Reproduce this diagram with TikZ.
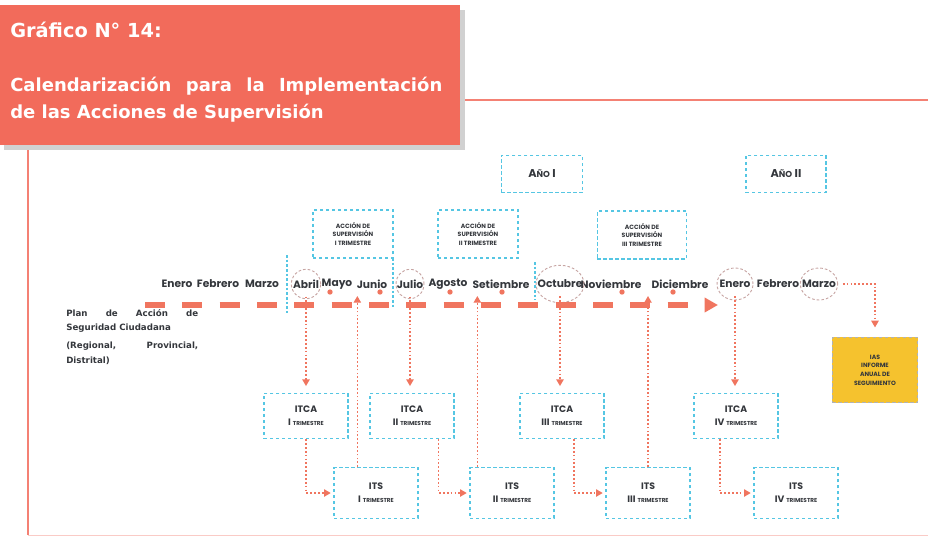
\documentclass[tikz,border=0pt]{standalone}
\usepackage{fontspec}
\setmainfont{Poppins}
\newfontfamily\titulofont{DejaVu Sans}
\usetikzlibrary{arrows.meta,positioning,shapes.geometric}
\definecolor{TemaRojo}{HTML}{F26B5B}
\definecolor{TemaLinea}{HTML}{F0755F}
\definecolor{TemaCian}{HTML}{55C6E3}
\definecolor{TemaGris}{HTML}{C7A5A3}
\definecolor{TemaTexto}{HTML}{34373C}
\definecolor{TemaAmarillo}{HTML}{F5C22E}
\newcommand{\trimtxt}[1]{#1~{\fontsize{4.3}{5}\selectfont TRIMESTRE}}
\tikzset{>=Triangle,titulo/.style={font=\titulofont\bfseries\fontsize{13.5}{15}\selectfont,
 text=white,inner sep=0pt},caja/.style={draw=TemaCian,line width=.9pt,
 dash pattern=on 2.5pt off 2pt,fill=white,align=center,inner sep=1pt},
 accion/.style={caja,minimum width=60pt,minimum height=36pt,font=\fontsize{4.6}{6.2}\selectfont\bfseries},
 inf/.style={caja,minimum width=63pt,minimum height=34pt,font=\fontsize{7}{10}\selectfont\bfseries},
 mes/.style={font=\fontsize{8}{9}\selectfont\bfseries,inner sep=1pt},
 marca/.style={draw=TemaGris,line width=.7pt,dash pattern=on 2pt off 1.5pt},
 flecha/.style={draw=TemaLinea,line width=1pt,dash pattern=on 1.3pt off 1.6pt,
 -{Triangle[length=5pt,width=5.5pt]},shorten >=4pt},
 linea/.style={draw=TemaLinea,line width=3.8pt,dash pattern=on 15pt off 13pt,
 -{Triangle[length=10pt,width=10.5pt]}},
 sep/.style={draw=TemaCian,line width=.8pt,dash pattern=on 2pt off 1.5pt},
 plan/.style={font=\titulofont\bfseries\fontsize{6.5}{11}\selectfont,align=left,inner sep=0pt}}
\begin{document}
\begin{tikzpicture}[x=.75pt,y=-.75pt,every node/.style={text=TemaTexto}]
\useasboundingbox (0,0) rectangle (928,536);
% marco
\draw[TemaRojo!85,line width=.8pt] (28,148)--(28,535);
\draw[TemaRojo!35,line width=.6pt] (28,535)--(928,535);
\draw[TemaRojo!85,line width=.8pt] (460,100)--(928,100);
% titulo
\fill[black!18] (4,10) rectangle (465,150);
\fill[TemaRojo] (0,5) rectangle (460,145);
\node[titulo,anchor=base west,font=\titulofont\bfseries\fontsize{14.5}{16}\selectfont] (graf) at (10,37) {Gráfico N° 14:};
\node[titulo,anchor=base west] (cal1) at (10,91) {\makebox[324pt][s]{Calendarización para la Implementación}};
\node[titulo,anchor=base west] (cal2) at (10,118) {de las Acciones de Supervisión};
% años
\node[caja,minimum width=61pt,minimum height=28pt,font=\fontsize{8.5}{9}\selectfont\bfseries] (anio1) at (542,174) {A{\fontsize{6.5}{7}\selectfont ÑO} I};
\node[caja,minimum width=60pt,minimum height=28pt,font=\fontsize{8.5}{9}\selectfont\bfseries] (anio2) at (786,174) {A{\fontsize{6.5}{7}\selectfont ÑO} II};
% acciones de supervision
\node[accion] (acc1) at (353,234) {ACCIÓN DE\\SUPERVISIÓN\\I TRIMESTRE};
\node[accion] (acc2) at (478,234) {ACCIÓN DE\\SUPERVISIÓN\\II TRIMESTRE};
\node[accion,minimum width=67pt] (acc3) at (642,235) {ACCIÓN DE\\SUPERVISIÓN\\III TRIMESTRE};
% meses
\foreach \n/\x/\t in {ene1/177/Enero,feb1/218/Febrero,mar1/262/Marzo,abr/306/Abril,may/337/Mayo,
 jun/372/Junio,jul/410/Julio,ago/448/Agosto,set/501/Setiembre,oct/560/Octubre,nov/611/Noviembre,
 dic/680/Diciembre,ene2/735/Enero,feb2/778/Febrero,mar2/819/Marzo}
 \node[mes] (\n) at (\x,284) {\t};
\foreach \m/\a/\b in {abr/11/11,jul/10.5/11,oct/18/14,ene2/13.5/12,mar2/14/12}
 \draw[marca] (\m) ellipse [x radius=\a pt,y radius=\b pt];
\foreach \x in {330,380,450,502,622,673} \fill[TemaLinea] (\x,292) circle (2pt);
% separadores
\draw[sep] (287,255)--(287,313);
\draw[sep] (393,258)--(393,308);
\draw[sep] (535,262)--(535,300);
% linea de tiempo
\coordinate (ini) at (145,305);
\coordinate (fin) at (718,305);
\draw[linea] (ini)--(fin);
\node[plan,anchor=north west] (plan1) at (66,309) {\makebox[99pt][s]{Plan de Acción de}\\Seguridad Ciudadana};
\node[plan,anchor=north west] (plan2) at (66,342) {\makebox[99pt][s]{(Regional, Provincial,}\\Distrital)};
% informes
\foreach \n/\x/\r in {itca1/306/I,itca2/412/II,itca3/562/III,itca4/736/IV}
 \node[inf] (\n) at (\x,416) {ITCA\\\trimtxt{\r}};
\foreach \n/\x/\r in {its1/376/I,its2/512/II,its3/648/III,its4/796/IV}
 \node[inf,minimum height=38pt] (\n) at (\x,493) {ITS\\\trimtxt{\r}};
\node[caja,draw=gray!60,fill=TemaAmarillo,minimum width=64pt,minimum height=49pt,
 font=\fontsize{4.6}{6.5}\selectfont\bfseries] (ias) at (875,370) {IAS\\INFORME\\ANUAL DE\\SEGUIMIENTO};
% flechas
\foreach \m/\c in {abr/itca1,jul/itca2,oct/itca3,ene2/itca4}
 \draw[flecha,shorten <=5pt,shorten >=5pt] (\m.south)--(\m.south |- \c.north);
\foreach \c/\s/\d in {itca1/its1/0pt,itca2/its2/20pt,itca3/its3/9pt,itca4/its4/-12pt}
 \draw[flecha,shorten >=2pt] ([xshift=\d]\c.south)|-(\s.west);
\coordinate (tope) at (0,296);
\foreach \s/\d in {its1/-14pt,its2/-26pt,its3/0pt}
 \draw[flecha,shorten >=0pt] ([xshift=\d]\s.north)--([xshift=\d]\s.north |- tope);
\draw[flecha,shorten <=4pt,shorten >=7pt] (mar2.east)-|(ias.north);
\end{tikzpicture}
\end{document}
